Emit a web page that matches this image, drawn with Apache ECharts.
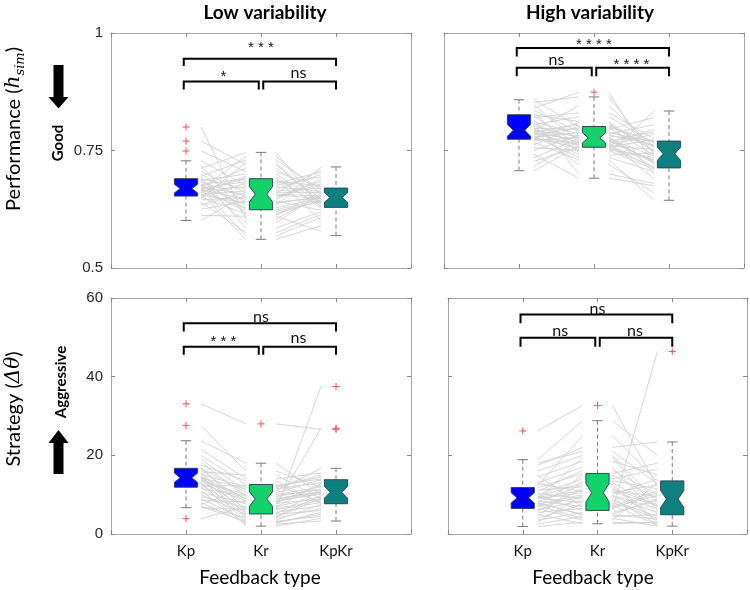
<!DOCTYPE html>
<html><head><meta charset="utf-8">
<script src="https://cdn.jsdelivr.net/npm/echarts@6/dist/echarts.min.js"></script>
<style>html,body{margin:0;padding:0;background:#fff}#c{width:750px;height:590px}</style>
</head><body><div id="c"></div>
<script>
// ---------- DATA ----------
const categories = ['Kp', 'Kr', 'KpKr'];
const columnTitles = ['Low variability', 'High variability'];
const xAxisTitle = 'Feedback type';
const sigPairs = [[1, 3], [1, 2], [2, 3]];

// box stats per category: [lower whisker, Q1, median, Q3, upper whisker]
const perfLowBox  = [[0.601,0.653,0.669,0.690,0.728],[0.561,0.624,0.657,0.690,0.746],[0.569,0.629,0.650,0.670,0.715]];
const perfHighBox = [[0.707,0.774,0.793,0.826,0.858],[0.691,0.757,0.777,0.801,0.864],[0.644,0.713,0.743,0.770,0.834]];
const stratLowBox = [[6.7,11.9,14.3,16.7,23.7],[2.0,5.1,8.9,12.6,18.0],[3.3,7.7,10.6,13.8,16.7]];
const stratHighBox= [[1.9,6.5,9.2,11.8,18.9],[2.6,6.0,10.5,15.4,28.8],[2.0,4.9,8.9,13.5,23.4]];

// outliers per category
const perfLowOut  = [[0.800,0.770,0.749],[],[]];
const perfHighOut = [[],[0.874],[]];
const stratLowOut = [[33.1,27.6,3.9],[28.0],[37.5,26.9,26.6]];
const stratHighOut= [[26.2],[32.7],[46.4]];

// per-subject values (paired lines)
const perfLowKp   = [0.800,0.770,0.749,0.728,0.718,0.712,0.706,0.700,0.695,0.692,0.690,0.688,0.686,0.683,0.680,0.678,0.676,0.674,0.672,0.670,0.669,0.669,0.668,0.667,0.666,0.664,0.662,0.661,0.659,0.657,0.655,0.653,0.651,0.648,0.645,0.640,0.634,0.625,0.612,0.601];
const perfLowKr   = [0.604,0.720,0.705,0.676,0.612,0.746,0.660,0.640,0.730,0.585,0.668,0.624,0.700,0.652,0.596,0.690,0.633,0.712,0.657,0.568,0.684,0.620,0.738,0.646,0.690,0.673,0.628,0.695,0.561,0.664,0.638,0.680,0.615,0.724,0.650,0.575,0.661,0.642,0.610,0.656];
const perfLowKpKr = [0.655,0.640,0.672,0.694,0.663,0.629,0.709,0.650,0.667,0.620,0.699,0.645,0.638,0.684,0.659,0.632,0.715,0.648,0.653,0.608,0.675,0.641,0.657,0.689,0.600,0.663,0.649,0.627,0.590,0.670,0.651,0.704,0.643,0.635,0.679,0.614,0.661,0.623,0.578,0.647];

const perfHighKp   = [0.858,0.852,0.846,0.840,0.835,0.830,0.826,0.823,0.820,0.816,0.812,0.808,0.805,0.802,0.799,0.797,0.795,0.794,0.793,0.792,0.791,0.789,0.787,0.785,0.783,0.781,0.779,0.777,0.775,0.774,0.771,0.767,0.762,0.756,0.750,0.742,0.735,0.727,0.717,0.707];
const perfHighKr   = [0.800,0.864,0.770,0.874,0.790,0.745,0.812,0.760,0.830,0.700,0.785,0.757,0.822,0.777,0.740,0.795,0.767,0.845,0.752,0.781,0.720,0.806,0.773,0.762,0.798,0.735,0.788,0.755,0.810,0.765,0.778,0.730,0.803,0.750,0.783,0.691,0.775,0.758,0.770,0.760];
const perfHighKpKr = [0.770,0.742,0.790,0.720,0.760,0.834,0.700,0.752,0.775,0.680,0.805,0.730,0.765,0.712,0.745,0.820,0.690,0.758,0.735,0.770,0.660,0.748,0.725,0.785,0.740,0.705,0.768,0.715,0.750,0.795,0.722,0.644,0.757,0.710,0.762,0.675,0.738,0.773,0.728,0.713];

const stratLowKp   = [33.1,27.6,3.9,23.7,21.5,20.0,19.0,18.2,17.5,16.9,16.7,16.3,15.8,15.5,15.1,14.8,14.6,14.4,14.3,14.2,14.0,13.7,13.4,13.1,12.8,12.5,12.2,11.9,11.5,11.0,10.5,10.0,9.5,9.0,8.5,8.0,7.5,7.0,6.7,6.9];
const stratLowKr   = [28.0,16.0,7.0,18.0,14.0,12.6,11.0,9.5,13.5,6.0,10.5,8.0,15.0,5.1,12.0,4.0,9.0,7.5,11.5,3.0,8.9,6.5,10.0,2.0,8.5,5.5,12.3,4.5,9.8,2.5,7.8,5.0,6.8,3.5,8.2,2.8,11.8,4.2,6.2,3.2];
const stratLowKpKr = [26.6,12.0,9.5,10.0,15.5,8.0,16.7,11.5,7.7,37.5,13.8,12.5,9.0,11.0,14.5,6.5,10.8,26.9,13.0,5.0,10.6,8.5,12.0,4.0,10.2,7.2,14.0,9.8,11.2,3.3,8.8,6.0,12.8,7.5,10.4,5.5,15.0,9.2,8.0,4.5];

const stratHighKp   = [26.2,18.9,17.5,16.0,14.5,13.0,12.2,11.8,11.2,10.8,10.3,10.0,9.7,9.5,9.3,9.2,9.0,8.7,8.4,8.1,7.8,7.5,7.2,7.0,6.8,6.5,6.2,5.8,5.5,5.0,4.5,4.0,3.5,3.0,2.5,1.9,18.0,15.0,12.8,8.0];
const stratHighKr   = [32.7,28.8,22.0,20.0,18.5,17.0,25.0,15.4,12.0,16.2,9.0,14.0,6.0,13.0,11.0,8.0,10.5,19.5,7.0,12.5,5.0,10.0,4.0,9.5,15.0,3.5,8.5,11.5,6.5,2.6,13.5,7.5,5.5,9.8,4.5,3.0,21.0,6.8,10.8,4.8];
const stratHighKpKr = [12.0,20.0,23.4,8.0,15.0,5.0,13.5,18.0,3.0,10.0,2.5,16.5,46.4,7.0,9.5,4.0,12.5,6.0,11.0,3.5,8.9,14.0,2.0,5.5,9.0,13.0,4.5,7.5,10.5,3.0,11.5,2.2,8.5,6.5,4.9,2.8,12.8,9.8,7.2,3.8];

// significance labels for pairs (1-3, 1-2, 2-3)
const perfLowSig   = ['***', '*', 'ns'];
const perfHighSig  = ['****', 'ns', '****'];
const stratLowSig  = ['ns', '***', 'ns'];
const stratHighSig = ['ns', 'ns', 'ns'];

// y-axis tick settings
const perfAxis  = {min: 0.5, max: 1, interval: 0.25};
const stratAxis = {min: 0, max: 60, interval: 20};

// ---------- LAYOUT / STYLE ----------
const boxColors = ['#0000ff', '#14d16a', '#0e8080'];
const nSubjects = perfLowKp.length;
const panels = [
  {grid:{left:111,top:33,width:300,height:235}, axis:perfAxis, box:perfLowBox, out:perfLowOut, subj:[perfLowKp,perfLowKr,perfLowKpKr], sig:perfLowSig,
   br:[[0.945,0.930,0.974],[0.897,0.880,0.914],[0.897,0.880,0.915]], xl:false, yl:true},
  {grid:{left:444,top:33,width:300,height:235}, axis:perfAxis, box:perfHighBox, out:perfHighOut, subj:[perfHighKp,perfHighKr,perfHighKpKr], sig:perfHighSig,
   br:[[0.968,0.950,0.981],[0.926,0.908,0.942],[0.926,0.908,0.938]], xl:false, yl:false},
  {grid:{left:111,top:298,width:300,height:236}, axis:stratAxis, box:stratLowBox, out:stratLowOut, subj:[stratLowKp,stratLowKr,stratLowKpKr], sig:stratLowSig,
   br:[[53.6,51.5,55.1],[47.6,45.6,49.7],[47.6,45.6,49.9]], xl:true, yl:true},
  {grid:{left:448,top:298,width:299,height:236}, axis:stratAxis, box:stratHighBox, out:stratHighOut, subj:[stratHighKp,stratHighKr,stratHighKpKr], sig:stratHighSig,
   br:[[55.8,53.6,57.2],[49.9,47.6,51.7],[49.9,47.6,51.7]], xl:true, yl:false}
];

const axisColor = '#a8a8a8';
const grids = [], xAxes = [], yAxes = [], series = [];
panels.forEach((p, i) => {
  grids.push(p.grid);
  const baseX = {type:'value', gridIndex:i, min:0, max:4, interval:1, splitLine:{show:false},
    axisLine:{show:true, onZero:false, lineStyle:{color:axisColor, width:1}},
    axisTick:{show:true, inside:true, length:4, lineStyle:{color:'#888'}}};
  xAxes.push(Object.assign({}, baseX, {position:'bottom',
    axisLabel:{show:p.xl, margin:10, fontFamily:'Lato', fontSize:15, color:'#111',
      formatter: v => (v >= 1 && v <= 3) ? categories[v - 1] : ''}}));
  xAxes.push(Object.assign({}, baseX, {position:'top', axisLabel:{show:false}}));
  const baseY = {type:'value', gridIndex:i, min:p.axis.min, max:p.axis.max, interval:p.axis.interval, splitLine:{show:false},
    axisLine:{show:true, onZero:false, lineStyle:{color:axisColor, width:1}},
    axisTick:{show:true, inside:true, length:4, lineStyle:{color:'#888'}}};
  yAxes.push(Object.assign({}, baseY, {position:'left',
    axisLabel:{show:p.yl, margin:8, fontFamily:'Liberation Sans', fontSize:15, color:'#262626'}}));
  yAxes.push(Object.assign({}, baseY, {position:'right', axisLabel:{show:false}}));
  const xi = i * 2, yi = i * 2;

  // paired subject lines
  const subjRows = [];
  for (let s = 0; s < p.subj[0].length; s++) subjRows.push([p.subj[0][s], p.subj[1][s], p.subj[2][s]]);
  series.push({type:'custom', xAxisIndex:xi, yAxisIndex:yi, z:1, silent:true, data:subjRows,
    renderItem:(params, api) => {
      const v = [api.value(0), api.value(1), api.value(2)];
      const a = api.coord([1.2, v[0]]), b = api.coord([1.8, v[1]]);
      const c = api.coord([2.2, v[1]]), d = api.coord([2.8, v[2]]);
      const st = {stroke:'#d0d0d0', lineWidth:0.9, fill:null};
      return {type:'group', children:[
        {type:'line', shape:{x1:a[0],y1:a[1],x2:b[0],y2:b[1]}, style:st},
        {type:'line', shape:{x1:c[0],y1:c[1],x2:d[0],y2:d[1]}, style:st}]};
    }});

  // boxes
  const boxRows = p.box.map((b, k) => [k + 1].concat(b));
  series.push({type:'custom', xAxisIndex:xi, yAxisIndex:yi, z:3, silent:true, data:boxRows,
    renderItem:(params, api) => {
      const x = api.value(0), lw = api.value(1), q1 = api.value(2), med = api.value(3), q3 = api.value(4), uw = api.value(5);
      const notch = 1.57 * (q3 - q1) / Math.sqrt(nSubjects);
      const nLo = med - notch, nHi = med + notch;
      const hw = api.size([0.155, 0])[0], cw = api.size([0.07, 0])[0];
      const P = (dx, v) => { const c = api.coord([x, v]); return [c[0] + dx, c[1]]; };
      const wst = {stroke:'#7a7a7a', lineWidth:1, lineDash:[4, 3], fill:null};
      const cst = {stroke:'#7a7a7a', lineWidth:1, fill:null};
      const top = P(0, uw), q3p = P(0, q3), q1p = P(0, q1), bot = P(0, lw);
      const poly = [P(-hw, q3), P(hw, q3), P(hw, nHi), P(hw / 2, med), P(hw, nLo), P(hw, q1),
                    P(-hw, q1), P(-hw, nLo), P(-hw / 2, med), P(-hw, nHi)];
      return {type:'group', children:[
        {type:'line', shape:{x1:top[0],y1:top[1],x2:q3p[0],y2:q3p[1]}, style:wst},
        {type:'line', shape:{x1:bot[0],y1:bot[1],x2:q1p[0],y2:q1p[1]}, style:wst},
        {type:'line', shape:{x1:top[0]-cw,y1:top[1],x2:top[0]+cw,y2:top[1]}, style:cst},
        {type:'line', shape:{x1:bot[0]-cw,y1:bot[1],x2:bot[0]+cw,y2:bot[1]}, style:cst},
        {type:'polygon', shape:{points:poly}, style:{fill:boxColors[x - 1], stroke:'#2f4656', lineWidth:1}}
      ]};
    }});

  // outliers
  const outRows = [];
  p.out.forEach((arr, k) => arr.forEach(v => outRows.push([k + 1, v])));
  series.push({type:'custom', xAxisIndex:xi, yAxisIndex:yi, z:4, silent:true, data:outRows,
    renderItem:(params, api) => {
      const c = api.coord([api.value(0), api.value(1)]);
      const st = {stroke:'#ff5050', lineWidth:1, fill:null}, r = 3.5;
      return {type:'group', children:[
        {type:'line', shape:{x1:c[0]-r,y1:c[1],x2:c[0]+r,y2:c[1]}, style:st},
        {type:'line', shape:{x1:c[0],y1:c[1]-r,x2:c[0],y2:c[1]+r}, style:st}]};
    }});

  // significance brackets
  series.push({type:'custom', xAxisIndex:xi, yAxisIndex:yi, z:5, silent:true, data:sigPairs.map((q, k) => [k]),
    renderItem:(params, api) => {
      const k = params.dataIndex, pair = sigPairs[k], lev = p.br[k];
      const x1 = pair[0] === 2 ? pair[0] + 0.03 : pair[0] - 0.03;
      const x2 = pair[1] === 2 ? pair[1] - 0.03 : pair[1];
      const a = api.coord([x1, lev[1]]), b = api.coord([x1, lev[0]]), c = api.coord([x2, lev[0]]), d = api.coord([x2, lev[1]]);
      const t = api.coord([(pair[0] + pair[1]) / 2, lev[2]]);
      const label = p.sig[k];
      const isStar = label.indexOf('*') >= 0;
      return {type:'group', children:[
        {type:'polyline', shape:{points:[a, b, c, d]}, style:{stroke:'#000', lineWidth:2, fill:null}},
        {type:'text', x:t[0], y:t[1] + (isStar ? 3 : 0), style:{text: isStar ? label.split('').join(' ') : label,
          align:'center', verticalAlign:'middle', fill:'#111',
          font: isStar ? '15px "Liberation Sans"' : '16px Lato'}}
      ]};
    }});
});

const graphic = [
  {type:'text', x:265, y:13, style:{text:columnTitles[0], font:'bold 19px Lato', fill:'#000', align:'center', verticalAlign:'middle'}},
  {type:'text', x:590, y:13, style:{text:columnTitles[1], font:'bold 19px Lato', fill:'#000', align:'center', verticalAlign:'middle'}},
  {type:'text', x:260, y:578, style:{text:xAxisTitle, font:'19px Lato', fill:'#000', align:'center', verticalAlign:'middle'}},
  {type:'text', x:593, y:578, style:{text:xAxisTitle, font:'19px Lato', fill:'#000', align:'center', verticalAlign:'middle'}},
  {type:'text', x:14, y:129, rotation:Math.PI / 2, style:{
    text:'{a|Performance (}{i|h}{s|sim}{a|)}', align:'center', verticalAlign:'middle',
    rich:{a:{font:'20px Lato', fill:'#000', lineHeight:26, verticalAlign:'middle'},
          i:{font:'italic 20px "DejaVu Serif"', fill:'#000', lineHeight:26, verticalAlign:'middle'},
          s:{font:'italic 13px "DejaVu Serif"', fill:'#000', lineHeight:13, verticalAlign:'bottom'}}}},
  {type:'text', x:14, y:409, rotation:Math.PI / 2, style:{
    text:'{a|Strategy (}{i|Δθ}{a|)}', align:'center', verticalAlign:'middle',
    rich:{a:{font:'20px Lato', fill:'#000'}, i:{font:'italic 20px "DejaVu Serif"', fill:'#000'}}}},
  {type:'text', x:58, y:143, rotation:Math.PI / 2, style:{text:'Good', font:'bold 15px Lato', fill:'#000', align:'center', verticalAlign:'middle'}},
  {type:'text', x:61, y:382, rotation:Math.PI / 2, style:{text:'Aggressive', font:'bold 15px Lato', fill:'#000', align:'center', verticalAlign:'middle'}},
  {type:'polygon', shape:{points:[[53.5,65],[63.5,65],[63.5,97],[68.5,97],[58.5,108.5],[48.5,97],[53.5,97]]}, style:{fill:'#000'}},
  {type:'polygon', shape:{points:[[58.5,430],[68.5,443],[63.5,443],[63.5,474],[53.5,474],[53.5,443],[48.5,443]]}, style:{fill:'#000'}}
];

const chart = echarts.init(document.getElementById('c'));
chart.setOption({animation:false, backgroundColor:'#fff', grid:grids, xAxis:xAxes, yAxis:yAxes, series:series, graphic:graphic});
</script></body></html>
